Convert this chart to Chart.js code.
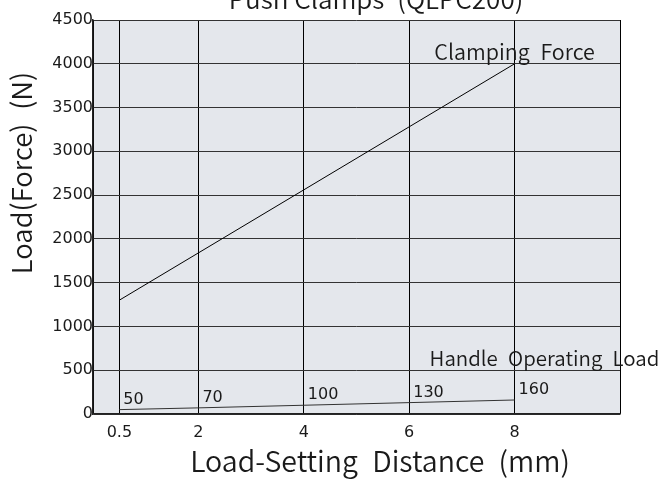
<!DOCTYPE html>
<html lang="en">
<head>
  <meta charset="UTF-8">
  <title>Push Clamps (QLPC200)</title>
  <script src="https://cdn.jsdelivr.net/npm/chart.js"></script>
  <style>
    html, body { margin: 0; padding: 0; background: #fff; }
    #wrap { width: 672px; height: 479px; }
  </style>
</head>
<body>
  <div id="wrap"><canvas id="loadChart"></canvas></div>

  <script>
    const FONT = '"Noto Sans CJK JP", "Noto Sans", sans-serif';
    const NUM_FONT = '"DejaVu Sans", sans-serif';

    // data
    const titleText = 'Push Clamps\u2002(QLPC200)';
    const xTitle = 'Load-Setting\u2002Distance\u2002(mm)';
    const yTitle = 'Load(Force)\u2002(N)';

    const xTicks = [0.5, 2, 4, 6, 8];
    const xTickLabels = ['0.5', '2', '4', '6', '8'];
    const xMin = 0, xMax = 10;
    const yMin = 0, yMax = 4500, yStep = 500;

    // clamping force: straight line between two end points
    const clampX = [0.5, 8];
    const clampForce = [1300, 4000];
    const clampLabel = 'Clamping\u2002Force';

    // handle operating load at each setting distance
    const handleX = [0.5, 2, 4, 6, 8];
    const handleLoad = [50, 70, 100, 130, 160];
    const handleLabel = 'Handle\u2002Operating\u2002Load';

    const textColor = '#1a1a1a';

    const plotBg = {
      id: 'plotBg',
      beforeDraw(chart) {
        const a = chart.chartArea, c = chart.ctx;
        c.save();
        c.fillStyle = '#e4e7ec';
        c.fillRect(a.left, a.top, a.right - a.left, a.bottom - a.top);
        c.restore();
      }
    };

    const texts = {
      id: 'texts',
      afterDraw(chart) {
        const c = chart.ctx;
        const xs = chart.scales.x, ys = chart.scales.y;
        c.save();
        c.fillStyle = textColor;

        // title (clipped at the top like the source)
        c.font = '350 26px ' + FONT;
        c.textAlign = 'center';
        c.textBaseline = 'alphabetic';
        c.fillText(titleText, 376, 9);

        // axis titles
        c.font = '350 28.5px ' + FONT;
        c.textBaseline = 'middle';
        c.fillText(xTitle, 380, 461);
        c.save();
        c.translate(22, 173);
        c.rotate(-Math.PI / 2);
        c.font = '350 27.5px ' + FONT;
        c.fillText(yTitle, 0, 0);
        c.restore();

        // series labels
        c.font = '350 21.5px ' + FONT;
        c.textAlign = 'center';
        c.textBaseline = 'alphabetic';
        c.fillText(clampLabel, xs.getPixelForValue(clampX[1]), ys.getPixelForValue(clampForce[1]) - 4);
        c.font = '350 20.5px ' + FONT;
        c.textAlign = 'left';
        c.fillText(handleLabel, xs.getPixelForValue(8) - 85, ys.getPixelForValue(500) - 4);

        // value labels on handle load
        c.font = '16px ' + NUM_FONT;
        c.textBaseline = 'middle';
        handleX.forEach((x, i) => {
          c.fillText(String(handleLoad[i]), xs.getPixelForValue(x) + 4, ys.getPixelForValue(handleLoad[i]) - 10);
        });
        c.restore();
      }
    };

    const ctx = document.getElementById('loadChart').getContext('2d');
    const loadChart = new Chart(ctx, {
      type: 'scatter',
      data: {
        datasets: [
          {
            label: 'Clamping Force',
            data: clampX.map((x, i) => ({ x: x, y: clampForce[i] })),
            showLine: true,
            borderColor: '#000',
            borderWidth: 1,
            pointRadius: 0
          },
          {
            label: 'Handle Operating Load',
            data: handleX.map((x, i) => ({ x: x, y: handleLoad[i] })),
            showLine: true,
            borderColor: '#333',
            borderWidth: 1,
            pointRadius: 0
          }
        ]
      },
      options: {
        responsive: true,
        maintainAspectRatio: false,
        animation: false,
        layout: { padding: { top: 20, right: 52, left: 0, bottom: 0 } },
        plugins: {
          legend: { display: false },
          title: { display: false },
          tooltip: { enabled: false }
        },
        scales: {
          x: {
            type: 'linear',
            min: xMin,
            max: xMax,
            afterBuildTicks(scale) {
              scale.ticks = [xMin].concat(xTicks, [xMax]).map(v => ({ value: v }));
            },
            afterFit(scale) { scale.height = 65; },
            grid: { color: '#000', lineWidth: 1, drawTicks: false },
            border: { color: '#222', width: 1.5 },
            ticks: {
              padding: 9,
              color: textColor,
              font: { family: NUM_FONT, size: 16 },
              maxRotation: 0,
              autoSkip: false,
              callback(v) {
                const i = xTicks.indexOf(v);
                return i >= 0 ? xTickLabels[i] : '';
              }
            }
          },
          y: {
            min: yMin,
            max: yMax,
            afterFit(scale) { scale.width = 93; },
            grid: { color: '#333', lineWidth: 1, drawTicks: false },
            border: { color: '#222', width: 1.5 },
            ticks: {
              stepSize: yStep,
              padding: 0,
              color: textColor,
              font: { family: NUM_FONT, size: 16 },
              callback(v) { return String(v); }
            }
          }
        }
      },
      plugins: [plotBg, texts]
    });
  </script>
</body>
</html>
